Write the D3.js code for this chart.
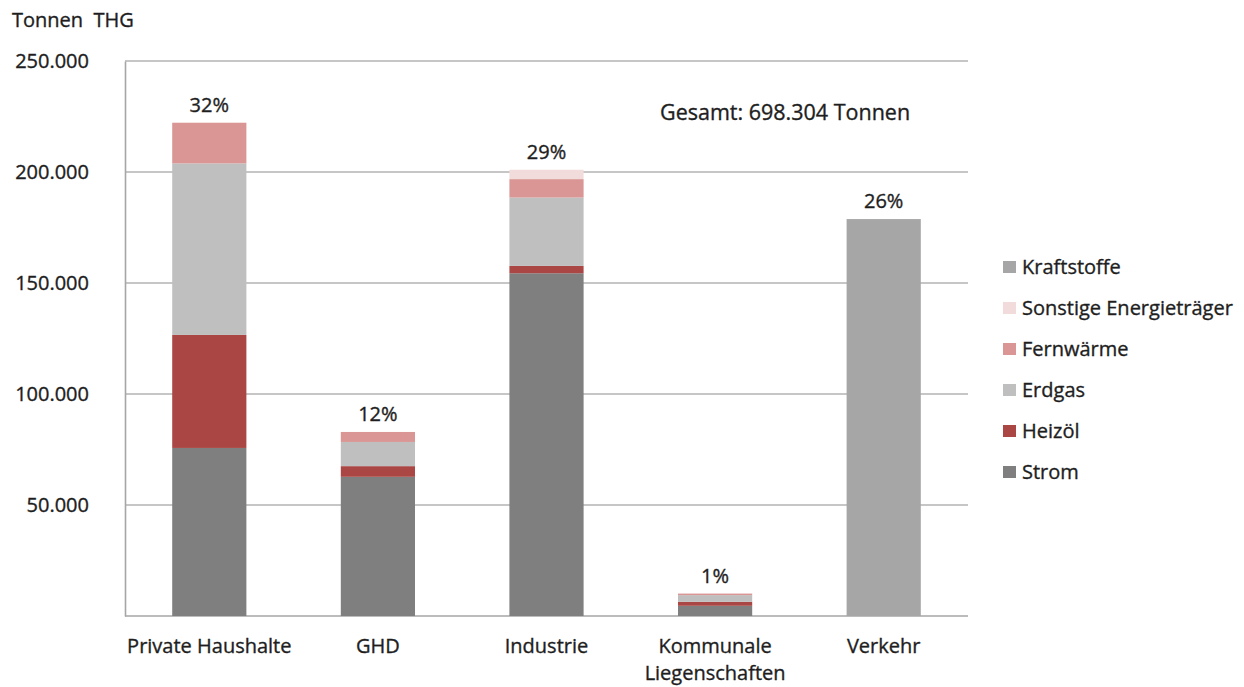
<!DOCTYPE html>
<html>
<head>
<meta charset="utf-8">
<script src="https://cdn.jsdelivr.net/npm/d3@7"></script>
<style>
  body { margin: 0; background: #fff; }
  text { font-family: "Open Sans", "Noto Sans", sans-serif; fill: #1e1e1e; stroke: #1e1e1e; stroke-width: 0.35px; }
</style>
</head>
<body>
<div id="chart-area"></div>
<script>
// Data
var categories = ["Private Haushalte", "GHD", "Industrie", "Kommunale Liegenschaften", "Verkehr"];
var seriesNames = ["Strom", "Heizöl", "Erdgas", "Fernwärme", "Sonstige Energieträger", "Kraftstoffe"];
var strom       = [75700, 62700, 154400, 4600, 0];
var heizoel     = [50900, 4800, 3300, 1800, 0];
var erdgas      = [77300, 10900, 30800, 3000, 0];
var fernwaerme  = [18300, 4500, 8300, 700, 0];
var sonstige    = [0, 0, 4200, 0, 0];
var kraftstoffe = [0, 0, 0, 0, 178800];
var percentLabels = ["32%", "12%", "29%", "1%", "26%"];
var yTicks = [50000, 100000, 150000, 200000, 250000];
var seriesColors = ["#7f7f7f", "#aa4643", "#bfbfbf", "#d99694", "#f2dcdb", "#a6a6a6"];

var seriesValues = [strom, heizoel, erdgas, fernwaerme, sonstige, kraftstoffe];
var data = categories.map((c, i) => {
    var row = {name: c};
    seriesNames.forEach((s, j) => { row[s] = seriesValues[j][i]; });
    return row;
});

var W = 1244, H = 687;
var margin = {top: 61, right: 276, bottom: 71, left: 125};
var width = W - margin.left - margin.right;
var height = H - margin.top - margin.bottom;

var svg = d3.select("#chart-area")
    .append("svg")
    .attr("width", W)
    .attr("height", H);

var g = svg.append("g")
    .attr("transform", "translate(" + margin.left + ", " + margin.top + ")");

var x = d3.scaleBand()
    .domain(categories)
    .range([0, width])
    .paddingInner(0.56)
    .paddingOuter(0.28);

var y = d3.scaleLinear()
    .domain([0, 250000])
    .range([height, 0]);

var color = d3.scaleOrdinal()
    .domain(seriesNames)
    .range(seriesColors);

// Gridlines
g.selectAll(".grid")
    .data(yTicks)
    .enter()
    .append("line")
    .attr("class", "grid")
    .attr("x1", 0)
    .attr("x2", width)
    .attr("y1", d => y(d))
    .attr("y2", d => y(d))
    .attr("stroke", "#b3b3b3")
    .attr("stroke-width", 1.6);

// Y axis
var leftAxis = d3.axisLeft(y)
    .tickValues(yTicks)
    .tickSize(0)
    .tickPadding(36)
    .tickFormat(d => d3.format(",")(d).replace(/,/g, "."));
var yAxis = g.append("g").call(leftAxis);
yAxis.select(".domain").attr("stroke", "#a6a6a6").attr("stroke-width", 1.6);
yAxis.selectAll("text").attr("font-size", "20px")
    .attr("font-family", "Open Sans, sans-serif");

// X axis line
g.append("line")
    .attr("x1", 0).attr("x2", width)
    .attr("y1", height).attr("y2", height)
    .attr("stroke", "#a6a6a6")
    .attr("stroke-width", 1.6);

// Stacked bars
var stack = d3.stack().keys(seriesNames);
var layers = stack(data);

g.selectAll(".layer")
    .data(layers)
    .enter()
    .append("g")
    .attr("class", "layer")
    .attr("fill", d => color(d.key))
    .selectAll("rect")
    .data(d => d)
    .enter()
    .append("rect")
    .attr("x", d => x(d.data.name))
    .attr("y", d => y(d[1]))
    .attr("width", x.bandwidth())
    .attr("height", d => y(d[0]) - y(d[1]));

// Percent labels
g.selectAll(".pct")
    .data(data)
    .enter()
    .append("text")
    .attr("class", "pct")
    .attr("x", d => x(d.name) + x.bandwidth() / 2)
    .attr("y", d => y(d3.sum(seriesNames, s => d[s])) - 11)
    .attr("text-anchor", "middle")
    .attr("font-size", "20px")
    .text((d, i) => percentLabels[i]);

// X labels
g.selectAll(".xlab")
    .data(categories)
    .enter()
    .append("text")
    .attr("class", "xlab")
    .attr("x", d => x(d) + x.bandwidth() / 2)
    .attr("y", height + 37)
    .attr("text-anchor", "middle")
    .attr("font-size", "20px")
    .each(function(d) {
        var parts = d === "Kommunale Liegenschaften" ? ["Kommunale", "Liegenschaften"] : [d];
        var t = d3.select(this);
        parts.forEach((p, k) => {
            t.append("tspan")
                .attr("x", x(d) + x.bandwidth() / 2)
                .attr("dy", k === 0 ? 0 : 27)
                .text(p);
        });
    });

// Titles
svg.append("text")
    .attr("x", 12)
    .attr("y", 27)
    .attr("font-size", "20px")
    .attr("xml:space", "preserve")
    .text("Tonnen  THG");

g.append("text")
    .attr("x", 535)
    .attr("y", 59)
    .attr("font-size", "21.5px")
    .text("Gesamt: 698.304 Tonnen");

// Legend
var legend = svg.append("g")
    .attr("transform", "translate(1003, 267)");
var legendItems = seriesNames.slice().reverse();
legendItems.forEach((s, i) => {
    var row = legend.append("g").attr("transform", "translate(0," + (i * 41) + ")");
    row.append("rect")
        .attr("x", 0).attr("y", -6)
        .attr("width", 13).attr("height", 12)
        .attr("fill", color(s));
    row.append("text")
        .attr("x", 19)
        .attr("y", 7)
        .attr("font-size", "20px")
        .text(s);
});
</script>
</body>
</html>
